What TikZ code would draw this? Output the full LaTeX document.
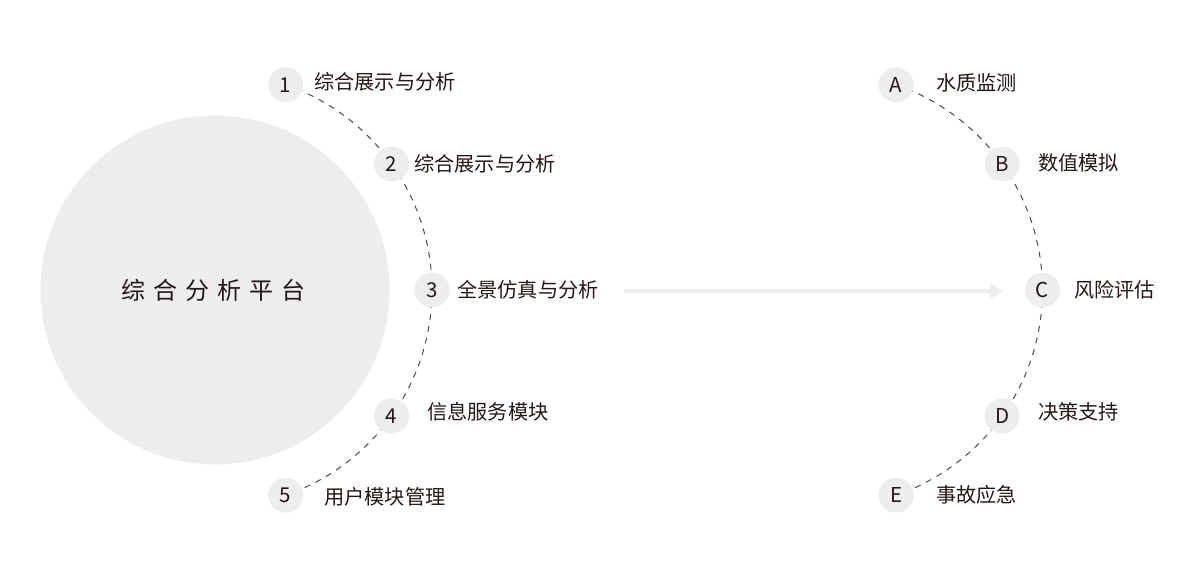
\documentclass[tikz,border=0pt]{standalone}
\usepackage{fontspec}
\setmainfont{Noto Sans CJK SC}
\usetikzlibrary{arrows.meta,backgrounds,calc}
\definecolor{circfill}{HTML}{EDEDEF}
\definecolor{txt}{HTML}{231815}
\definecolor{dashc}{HTML}{4A4A4A}
\definecolor{arrowc}{HTML}{EDEDED}
\begin{document}
\begin{tikzpicture}[x=1pt,y=1pt,
  bignode/.style={circle, fill=circfill, minimum size=349pt, inner sep=0pt},
  badge/.style={circle, fill=circfill, minimum size=35pt, inner sep=0pt,
    font=\fontsize{20.5}{20}\selectfont, text=txt, text height=15pt, text depth=0pt},
  lbl/.style={anchor=west, inner sep=0pt, font=\fontsize{20.2}{24}\selectfont,
    text=txt, text height=17.8pt, text depth=2.4pt},
  dashline/.style={draw=dashc, line width=1pt, dash pattern=on 6pt off 6pt},
  flowarrow/.style={draw=arrowc, line width=4pt, -{Triangle[length=13pt,width=15pt]}}
]
\useasboundingbox (0,0) rectangle (1200,582);

% left side
\coordinate (lc) at (215,292);
\node[bignode] (big) at (lc) {};
\node[font=\fontsize{24}{28}\selectfont, text=txt, inner sep=0pt, text height=21pt, text depth=3pt] (bigt) at (213.5,292)
  {综\hspace{8pt}合\hspace{8pt}分\hspace{8pt}析\hspace{8pt}平\hspace{8pt}台};

\node[badge] (n1) at ($(lc)+(71:217)$) {1};
\node[badge] (n2) at ($(lc)+(35.5:217)$) {2};
\node[badge] (n3) at ($(lc)+(0:217)$) {3};
\node[badge] (n4) at ($(lc)+(-35.5:217)$) {4};
\node[badge] (n5) at ($(lc)+(-71:217)$) {5};

\node[lbl] (l1) at (314,500) {综合展示与分析};
\node[lbl] (l2) at (414,418) {综合展示与分析};
\node[lbl] (l3) at (457,292) {全景仿真与分析};
\node[lbl] (l4) at (427,170) {信息服务模块};
\node[lbl] (l5) at (324,85) {用户模块管理};

% right side
\coordinate (rc) at (825.5,292);
\node[badge] (nA) at ($(rc)+(71:217)$) {A};
\node[badge] (nB) at ($(rc)+(35.5:217)$) {B};
\node[badge] (nC) at ($(rc)+(0:217)$) {C};
\node[badge] (nD) at ($(rc)+(-35.5:217)$) {D};
\node[badge] (nE) at ($(rc)+(-71:217)$) {E};

\node[lbl] (lA) at (936,499) {水质监测};
\node[lbl] (lB) at (1038,419) {数值模拟};
\node[lbl] (lC) at (1074,292) {风险评估};
\node[lbl] (lD) at (1038,170) {决策支持};
\node[lbl] (lE) at (936,87) {事故应急};

% arrow
\coordinate (as) at (624,291);
\coordinate (ae) at (1003,291);
\draw[flowarrow] (as) -- (ae);

\begin{pgfonlayer}{background}
\fill[white] (0,0) rectangle (1200,582);
\draw[dashline] (n1.center) arc[start angle=71, end angle=35.5, radius=217];
\draw[dashline] (n2.center) arc[start angle=35.5, end angle=0, radius=217];
\draw[dashline] (n3.center) arc[start angle=0, end angle=-35.5, radius=217];
\draw[dashline] (n4.center) arc[start angle=-35.5, end angle=-71, radius=217];
\draw[dashline] (nA.center) arc[start angle=71, end angle=35.5, radius=217];
\draw[dashline] (nB.center) arc[start angle=35.5, end angle=0, radius=217];
\draw[dashline] (nC.center) arc[start angle=0, end angle=-35.5, radius=217];
\draw[dashline] (nD.center) arc[start angle=-35.5, end angle=-71, radius=217];
\end{pgfonlayer}
\end{tikzpicture}
\end{document}
